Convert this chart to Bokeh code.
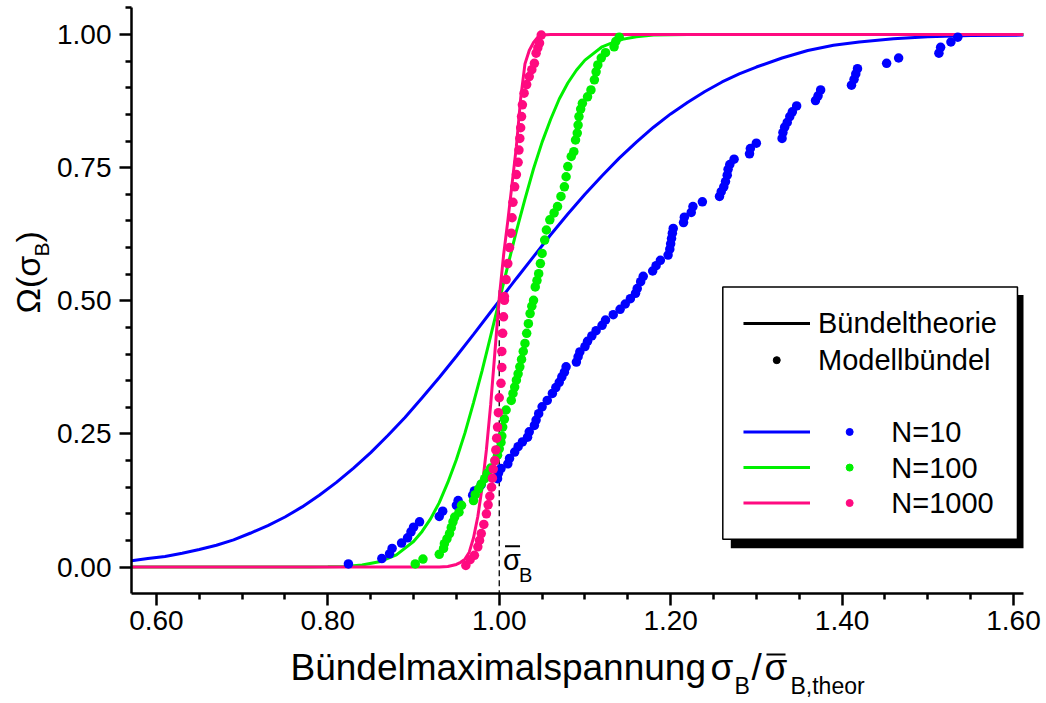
import math
from bokeh.plotting import figure
from bokeh.models import Range1d, FixedTicker, Label, NumeralTickFormatter
from bokeh.layouts import row, column
from bokeh.embed import file_html
from bokeh.resources import INLINE

# ---------------- data ----------------
x_ticks = [0.6, 0.8, 1.0, 1.2, 1.4, 1.6]
x_minor = [0.65, 0.7, 0.75, 0.85, 0.9, 0.95, 1.05, 1.1, 1.15, 1.25, 1.3, 1.35, 1.45, 1.5, 1.55]
y_ticks = [0.0, 0.25, 0.5, 0.75, 1.0]
y_minor = [-0.05, 0.05, 0.1, 0.15, 0.2, 0.3, 0.35, 0.4, 0.45, 0.55, 0.6, 0.65, 0.7, 0.8, 0.85, 0.9, 0.95, 1.05]

theory_n10_x = [0.571, 0.59, 0.61, 0.63, 0.65, 0.67, 0.69, 0.71, 0.73, 0.75, 0.77, 0.79, 0.81, 0.83, 0.85,
                0.87, 0.89, 0.91, 0.93, 0.95, 0.97, 0.99, 1.00, 1.02, 1.04, 1.06, 1.08, 1.10, 1.12, 1.14,
                1.16, 1.18, 1.20, 1.22, 1.24, 1.26, 1.28, 1.30, 1.33, 1.36, 1.39, 1.42, 1.46, 1.50, 1.55,
                1.612]
theory_n10_y = [0.012, 0.016, 0.020, 0.026, 0.033, 0.041, 0.051, 0.064, 0.078, 0.094, 0.113, 0.135, 0.159,
                0.186, 0.215, 0.247, 0.281, 0.318, 0.356, 0.396, 0.437, 0.479, 0.500, 0.542, 0.583, 0.624,
                0.663, 0.700, 0.735, 0.768, 0.798, 0.826, 0.851, 0.873, 0.893, 0.911, 0.926, 0.939, 0.956,
                0.970, 0.980, 0.986, 0.992, 0.996, 0.998, 0.999]

theory_n100_x = [0.571, 0.78, 0.80, 0.82, 0.84, 0.86, 0.88, 0.90, 0.91, 0.92, 0.93, 0.94, 0.95, 0.96, 0.97,
                 0.98, 0.99, 1.00, 1.01, 1.02, 1.03, 1.04, 1.05, 1.06, 1.07, 1.08, 1.09, 1.10, 1.12, 1.14,
                 1.16, 1.18, 1.22, 1.612]
theory_n100_y = [0.0, 0.0001, 0.0004, 0.0013, 0.004, 0.010, 0.023, 0.048, 0.067, 0.091, 0.121, 0.159, 0.202,
                 0.252, 0.309, 0.369, 0.434, 0.500, 0.566, 0.631, 0.691, 0.748, 0.798, 0.841, 0.879, 0.909,
                 0.933, 0.952, 0.977, 0.990, 0.996, 0.999, 1.0, 1.0]

theory_n1000_x = [0.571, 0.93, 0.94, 0.95, 0.955, 0.96, 0.965, 0.97, 0.975, 0.98, 0.985, 0.99, 0.995, 1.000,
                  1.005, 1.010, 1.015, 1.020, 1.025, 1.030, 1.035, 1.040, 1.045, 1.050, 1.06, 1.612]
theory_n1000_y = [0.0, 0.0, 0.001, 0.005, 0.009, 0.015, 0.028, 0.055, 0.095, 0.150, 0.220, 0.305, 0.405,
                  0.505, 0.585, 0.650, 0.720, 0.790, 0.880, 0.945, 0.970, 0.985, 0.995, 0.999, 1.0, 1.0]

model_n10_x = [0.824, 0.863, 0.872, 0.875, 0.886, 0.893, 0.897, 0.900, 0.907, 0.930, 0.934, 0.950, 0.952,
               0.969, 0.971, 0.979, 0.998, 0.999, 1.002, 1.010, 1.012, 1.018, 1.022, 1.027, 1.033, 1.035,
               1.041, 1.043, 1.046, 1.050, 1.056, 1.062, 1.066, 1.070, 1.073, 1.076, 1.078, 1.090, 1.092,
               1.094, 1.100, 1.103, 1.108, 1.113, 1.120, 1.124, 1.133, 1.141, 1.147, 1.153, 1.159, 1.161,
               1.165, 1.168, 1.179, 1.183, 1.188, 1.197, 1.199, 1.200, 1.201, 1.202, 1.203, 1.215, 1.216,
               1.224, 1.226, 1.237, 1.257, 1.259, 1.262, 1.264, 1.266, 1.267, 1.269, 1.274, 1.292, 1.293,
               1.300, 1.330, 1.331, 1.333, 1.336, 1.339, 1.342, 1.347, 1.369, 1.372, 1.375, 1.411, 1.414,
               1.416, 1.418, 1.452, 1.466, 1.513, 1.515, 1.527, 1.535]
model_n10_y = [0.006, 0.016, 0.025, 0.035, 0.045, 0.055, 0.066, 0.075, 0.085, 0.095, 0.105, 0.116, 0.125,
               0.135, 0.143, 0.155, 0.166, 0.176, 0.185, 0.194, 0.204, 0.216, 0.226, 0.235, 0.244, 0.254,
               0.266, 0.276, 0.288, 0.301, 0.313, 0.326, 0.337, 0.347, 0.357, 0.366, 0.376, 0.385, 0.395,
               0.404, 0.414, 0.424, 0.434, 0.444, 0.454, 0.464, 0.474, 0.484, 0.494, 0.504, 0.514, 0.523,
               0.536, 0.546, 0.556, 0.566, 0.576, 0.586, 0.597, 0.607, 0.617, 0.627, 0.636, 0.647, 0.657,
               0.666, 0.677, 0.686, 0.696, 0.705, 0.714, 0.724, 0.736, 0.747, 0.756, 0.766, 0.776, 0.786,
               0.796, 0.805, 0.816, 0.826, 0.835, 0.846, 0.855, 0.866, 0.876, 0.885, 0.896, 0.905, 0.916,
               0.926, 0.936, 0.946, 0.956, 0.965, 0.976, 0.986, 0.995]

model_n100_x = [0.902, 0.911, 0.930, 0.935, 0.936, 0.939, 0.942, 0.944, 0.946, 0.948, 0.953, 0.956, 0.970,
                0.972, 0.976, 0.979, 0.983, 0.986, 0.990, 0.995, 0.998, 1.000, 1.002, 1.003, 1.004, 1.006,
                1.008, 1.014, 1.016, 1.018, 1.020, 1.022, 1.024, 1.026, 1.028, 1.030, 1.032, 1.034, 1.036,
                1.038, 1.040, 1.042, 1.044, 1.046, 1.048, 1.050, 1.053, 1.055, 1.059, 1.064, 1.068, 1.072,
                1.076, 1.078, 1.080, 1.084, 1.087, 1.089, 1.091, 1.092, 1.093, 1.095, 1.097, 1.103, 1.107,
                1.111, 1.113, 1.115, 1.119, 1.124, 1.134, 1.136, 1.140]
model_n100_y = [0.006, 0.015, 0.024, 0.035, 0.044, 0.053, 0.063, 0.074, 0.085, 0.094, 0.103, 0.116, 0.125,
                0.136, 0.147, 0.156, 0.166, 0.176, 0.186, 0.200, 0.210, 0.222, 0.234, 0.246, 0.263, 0.278,
                0.295, 0.313, 0.326, 0.338, 0.351, 0.363, 0.376, 0.390, 0.405, 0.420, 0.439, 0.457, 0.476,
                0.490, 0.501, 0.526, 0.538, 0.551, 0.570, 0.589, 0.614, 0.633, 0.652, 0.665, 0.677, 0.696,
                0.714, 0.733, 0.752, 0.771, 0.780, 0.802, 0.815, 0.830, 0.846, 0.860, 0.871, 0.883, 0.896,
                0.915, 0.930, 0.943, 0.956, 0.966, 0.977, 0.987, 0.995]

model_n1000_x = [0.961, 0.966, 0.971, 0.975, 0.977, 0.979, 0.982, 0.985, 0.987, 0.989, 0.991, 0.992, 0.993,
                 0.995, 0.996, 0.997, 0.998, 0.999, 1.000, 1.002, 1.003, 1.003, 1.004, 1.005, 1.006, 1.006,
                 1.008, 1.010, 1.012, 1.014, 1.015, 1.016, 1.018, 1.020, 1.022, 1.023, 1.024, 1.025, 1.026,
                 1.027, 1.029, 1.032, 1.035, 1.038, 1.041, 1.043, 1.045, 1.047, 1.049]
model_n1000_y = [0.003, 0.014, 0.022, 0.038, 0.050, 0.063, 0.080, 0.100, 0.117, 0.133, 0.150, 0.167, 0.184,
                 0.200, 0.220, 0.242, 0.263, 0.290, 0.318, 0.345, 0.375, 0.405, 0.439, 0.470, 0.501, 0.508,
                 0.540, 0.570, 0.600, 0.627, 0.656, 0.685, 0.714, 0.737, 0.760, 0.783, 0.805, 0.825, 0.846,
                 0.868, 0.890, 0.906, 0.921, 0.934, 0.946, 0.965, 0.975, 0.984, 0.999]

sigma_mean = 1.0
series_names = ["N=10", "N=100", "N=1000"]
series_colors = ["#0000FF", "#00F000", "#FF0A80"]

FONT = "Liberation Sans"
W_Y = 54      # width of the y-title strip
H_MAIN = 645  # height of the main plot
W_TOT, H_TOT = 1046, 703

# ---------------- main figure ----------------
p = figure(width=W_TOT - W_Y, height=H_MAIN,
           x_range=Range1d(0.5709, 1.6117), y_range=Range1d(-0.0496, 1.0508),
           output_backend="svg", toolbar_location=None, frame_align=False,
           min_border_left=76, min_border_right=23, min_border_top=7, min_border_bottom=52)
p.outline_line_color = None
p.grid.visible = False

p.xaxis.ticker = FixedTicker(ticks=x_ticks, minor_ticks=x_minor)
p.yaxis.ticker = FixedTicker(ticks=y_ticks, minor_ticks=y_minor)
p.xaxis.formatter = NumeralTickFormatter(format="0.00")
p.yaxis.formatter = NumeralTickFormatter(format="0.00")
for ax in (p.xaxis[0], p.yaxis[0]):
    ax.axis_line_width = 2.5
    ax.axis_line_color = "black"
    ax.major_tick_line_width = 2.5
    ax.minor_tick_line_width = 2.5
    ax.major_tick_line_color = "black"
    ax.minor_tick_line_color = "black"
    ax.major_tick_out = 12
    ax.major_tick_in = 0
    ax.minor_tick_out = 6
    ax.minor_tick_in = 0
    ax.major_label_text_font = FONT
    ax.major_label_text_font_size = "28px"
    ax.major_label_text_color = "black"
p.xaxis.major_label_standoff = 5
p.yaxis.major_label_standoff = 8

# page pixel -> data (for placing decorations inside the frame)
def X(px):
    return 0.6 + (px - 155) / 858.0

def Y(py):
    return (566.7 - py) / 532.0

# dashed mean line
p.segment(x0=[sigma_mean], y0=[0.52], x1=[sigma_mean], y1=[-0.0496],
          line_color="black", line_width=1.3, line_dash="6 4")

# theory curves
theo = [(theory_n10_x, theory_n10_y), (theory_n100_x, theory_n100_y), (theory_n1000_x, theory_n1000_y)]
for (tx, ty), c in zip(theo, series_colors):
    p.line(tx, ty, line_color=c, line_width=3)

# model points
mods = [(model_n10_x, model_n10_y), (model_n100_x, model_n100_y), (model_n1000_x, model_n1000_y)]
for (mx, my), c in zip(mods, series_colors):
    p.scatter(mx, my, size=9.5, fill_color=c, line_color=None)

# legend box with shadow
p.quad(left=[X(730)], right=[X(1027)], top=[Y(295)], bottom=[Y(548)],
       fill_color="black", line_color=None)
p.quad(left=[X(722)], right=[X(1017)], top=[Y(287)], bottom=[Y(539)],
       fill_color="white", line_color="black", line_width=1.5)

LFS = "29px"
p.line([X(742.7), X(809.3)], [Y(323.3)] * 2, line_color="black", line_width=3)
p.scatter([X(776)], [Y(360)], size=7, color="black")
p.add_layout(Label(x=X(817.3), y=Y(323.3), text="Bündeltheorie", text_baseline="middle",
                   text_font=FONT, text_font_size=LFS, text_color="black"))
p.add_layout(Label(x=X(817.3), y=Y(360), text="Modellbündel", text_baseline="middle",
                   text_font=FONT, text_font_size=LFS, text_color="black"))
for name, c, py in zip(series_names, series_colors, [431.7, 467.3, 502.7]):
    p.line([X(742.7), X(809.3)], [Y(py)] * 2, line_color=c, line_width=3)
    p.scatter([X(849)], [Y(py)], size=7, color=c)
    p.add_layout(Label(x=X(890.7), y=Y(py), text=name, text_baseline="middle",
                       text_font=FONT, text_font_size=LFS, text_color="black"))

# sigma-bar annotation next to the dashed line
p.add_layout(Label(x=X(502), y=Y(560), text="σ", text_font=FONT, text_font_size="29px",
                   text_baseline="middle", text_color="black"))
p.segment(x0=[X(504)], y0=[Y(546)], x1=[X(519)], y1=[Y(546)], line_color="black", line_width=2)
p.add_layout(Label(x=X(518), y=Y(575), text="B", text_font=FONT, text_font_size="20px",
                   text_baseline="middle", text_color="black"))

# ---------------- x title strip ----------------
xlab = figure(width=W_TOT - W_Y, height=H_TOT - H_MAIN, x_range=Range1d(W_Y, W_TOT),
              y_range=Range1d(H_TOT, H_MAIN), output_backend="svg", toolbar_location=None,
              x_axis_location=None, y_axis_location=None, min_border=0, frame_align=False)
xlab.outline_line_color = None
xlab.grid.visible = False
MFS, SFS = "37px", "23px"
xl = [("Bündelmaximalspannung", 290, 667, MFS),
      ("σ", 710, 667, MFS),
      ("B", 734, 685, SFS),
      ("/", 751, 667, MFS),
      ("σ", 764, 667, MFS),
      ("B,theor", 790, 685, SFS)]
for t, px, py, fs in xl:
    xlab.add_layout(Label(x=px, y=py, text=t, text_font=FONT, text_font_size=fs,
                          text_baseline="middle", text_color="black"))
xlab.segment(x0=[766], y0=[654], x1=[785], y1=[654], line_color="black", line_width=2)

# ---------------- y title strip ----------------
ylab = figure(width=W_Y, height=H_TOT, x_range=Range1d(0, W_Y), y_range=Range1d(H_TOT, 0),
              output_backend="svg", toolbar_location=None,
              x_axis_location=None, y_axis_location=None, min_border=0, frame_align=False)
ylab.outline_line_color = None
ylab.grid.visible = False
yl = [("Ω(σ", 27, 313, "34px"),
      ("B", 41, 256, "21px"),
      (")", 27, 242, "34px")]
for t, px, py, fs in yl:
    ylab.add_layout(Label(x=px, y=py, text=t, angle=math.pi / 2, text_font=FONT, text_font_size=fs,
                          text_baseline="middle", text_color="black"))

layout = row(ylab, column(p, xlab))
open("out.html", "w").write(file_html(layout, INLINE))
